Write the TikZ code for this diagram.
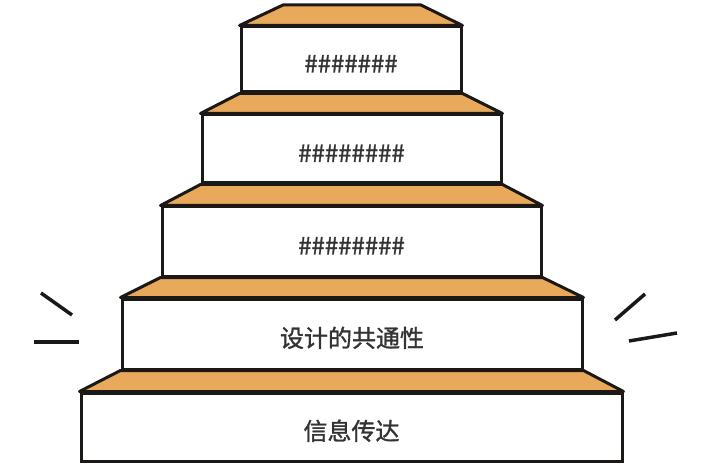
\documentclass[tikz,border=0pt]{standalone}
\usepackage{fontspec}
\newfontfamily\cjk[FakeBold=1.2]{Noto Sans CJK SC}
\definecolor{treadorange}{RGB}{232,170,90}
\definecolor{edgeblack}{RGB}{28,24,22}
\definecolor{textgray}{RGB}{51,51,51}
\tikzset{
  stepbox/.style={draw=edgeblack, line width=3pt, fill=white, inner sep=0pt,
    text height=26pt, text depth=0pt,
    font=\cjk\fontsize{24}{28}\selectfont, text=textgray},
  tread/.style={draw=edgeblack, line width=3pt, fill=treadorange, line join=round},
  spark/.style={draw=edgeblack, line width=3.5pt}
}
\begin{document}
\begin{tikzpicture}[x=1pt, y=-1pt]
  \useasboundingbox (0,0) rectangle (713,468);

  % 台阶（自上而下）
  \node[stepbox, minimum width=220pt, minimum height=65pt] (s1) at (351,59.5) {\#\#\#\#\#\#\#};
  \node[stepbox, minimum width=299pt, minimum height=68pt] (s2) at (351.5,149) {\#\#\#\#\#\#\#\#};
  \node[stepbox, minimum width=379pt, minimum height=69pt] (s3) at (351.5,241.5) {\#\#\#\#\#\#\#\#};
  \node[stepbox, minimum width=460pt, minimum height=70pt] (s4) at (352,334) {设计的共通性};
  \node[stepbox, minimum width=541pt, minimum height=68pt] (s5) at (351.5,427) {信息传达};

  % 踏面
  \coordinate (t1) at (283,5);
  \coordinate (t2) at (421,5);
  \draw[tread] (s1.north west) -- (t1) -- (t2) -- (s1.north east) -- cycle;
  \draw[tread] (s2.north west) -- (s1.south west) -- (s1.south east) -- (s2.north east) -- cycle;
  \draw[tread] (s3.north west) -- (s2.south west) -- (s2.south east) -- (s3.north east) -- cycle;
  \draw[tread] (s4.north west) -- (s3.south west) -- (s3.south east) -- (s4.north east) -- cycle;
  \draw[tread] (s5.north west) -- (s4.south west) -- (s4.south east) -- (s5.north east) -- cycle;

  % 两侧装饰线
  \draw[spark] (41,293) -- (72,315);
  \draw[spark] (34,342) -- (79,342);
  \draw[spark] (615,320) -- (645,294);
  \draw[spark] (629,341) -- (677,333);
\end{tikzpicture}
\end{document}
